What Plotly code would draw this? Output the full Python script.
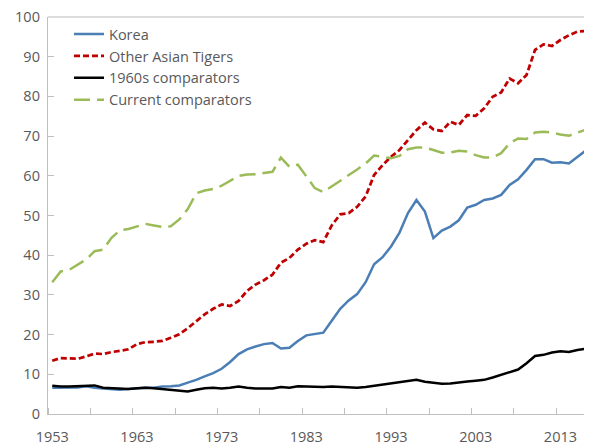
import plotly.graph_objects as go

years = list(range(1953, 2018))

korea = [6.6, 6.6, 6.6, 6.7, 7.0, 6.6, 6.4, 6.3, 6.1, 6.3,
         6.5, 6.6, 6.6, 6.9, 7.0, 7.2, 7.9, 8.6, 9.5, 10.3,
         11.4, 13.1, 15.1, 16.3, 17.0, 17.6, 17.9, 16.5, 16.7, 18.4,
         19.8, 20.1, 20.5, 23.5, 26.5, 28.6, 30.2, 33.2, 37.7, 39.5,
         42.2, 45.7, 50.6, 53.9, 51.0, 44.3, 46.2, 47.2, 48.8, 52.0,
         52.7, 53.9, 54.3, 55.2, 57.7, 59.1, 61.5, 64.2, 64.2, 63.3,
         63.4, 63.1, 64.8, 66.4, 67.4]

other_tigers = [13.4, 14.1, 14.0, 13.9, 14.5, 15.2, 15.1, 15.6, 15.9, 16.3,
                17.6, 18.1, 18.2, 18.4, 19.2, 20.1, 21.6, 23.4, 25.1, 26.5,
                27.6, 27.2, 28.5, 31.0, 32.6, 33.7, 35.1, 38.1, 39.3, 41.4,
                42.9, 43.8, 43.3, 47.5, 50.3, 50.6, 52.2, 54.8, 60.2, 62.7,
                64.8, 66.5, 69.0, 71.5, 73.4, 71.7, 71.3, 73.6, 72.8, 75.3,
                75.1, 77.0, 79.9, 81.0, 84.5, 83.3, 85.4, 91.7, 93.1, 92.7,
                94.2, 95.4, 96.3, 96.5, 97.1]

comparators_1960s = [7.1, 6.9, 6.9, 7.0, 7.1, 7.2, 6.6, 6.5, 6.4, 6.3,
                     6.5, 6.6, 6.5, 6.3, 6.1, 5.9, 5.7, 6.1, 6.5, 6.6,
                     6.4, 6.6, 6.9, 6.6, 6.4, 6.4, 6.4, 6.8, 6.6, 7.0,
                     6.9, 6.8, 6.8, 6.9, 6.8, 6.7, 6.6, 6.8, 7.1, 7.4,
                     7.7, 8.0, 8.3, 8.6, 8.1, 7.8, 7.6, 7.7, 8.0, 8.2,
                     8.4, 8.6, 9.2, 9.9, 10.6, 11.2, 12.8, 14.6, 14.9, 15.5,
                     15.8, 15.6, 16.1, 16.4, 16.8]

current_comparators = [33.2, 35.9, 36.3, 37.7, 38.9, 41.0, 41.4, 44.4, 46.3, 46.6,
                       47.3, 47.9, 47.5, 47.1, 47.3, 49.0, 51.6, 55.6, 56.3, 56.7,
                       57.5, 58.8, 60.0, 60.3, 60.4, 60.7, 61.0, 64.6, 62.3, 62.8,
                       59.8, 56.9, 55.9, 57.3, 58.6, 60.0, 61.6, 63.1, 65.1, 64.8,
                       64.4, 65.0, 66.7, 67.1, 67.1, 66.5, 65.8, 65.9, 66.3, 66.1,
                       65.2, 64.6, 64.6, 65.7, 68.2, 69.4, 69.3, 70.9, 71.1, 70.9,
                       70.4, 70.1, 70.9, 71.7, 72.4]

label_years = [1953, 1963, 1973, 1983, 1993, 2003, 2013]
y_ticks = [0, 10, 20, 30, 40, 50, 60, 70, 80, 90, 100]

FONT = "Open Sans"
GREY = "#595959"
AXIS = "#BFBFBF"

fig = go.Figure()
fig.add_trace(go.Scatter(x=years, y=korea, name="Korea", mode="lines",
                         line=dict(color="#4A7EB5", width=2.5)))
fig.add_trace(go.Scatter(x=years, y=other_tigers, name="Other Asian Tigers", mode="lines",
                         line=dict(color="#C00000", width=2.75, dash="6px,3px")))
fig.add_trace(go.Scatter(x=years, y=comparators_1960s, name="1960s comparators", mode="lines",
                         line=dict(color="#000000", width=2.5)))
fig.add_trace(go.Scatter(x=years, y=current_comparators, name="Current comparators", mode="lines",
                         line=dict(color="#9BBB59", width=2.5, dash="16px,7px")))

# top border of the plot area
fig.add_shape(type="line", xref="paper", yref="paper", x0=0, x1=1, y0=1, y1=1,
              line=dict(color="#D0D0D0", width=1.5), layer="above")

fig.update_layout(
    width=584, height=438,
    margin=dict(l=40, r=0, t=9, b=32, autoexpand=False),
    paper_bgcolor="white", plot_bgcolor="white",
    font=dict(family=FONT, size=14.5, color=GREY),
    showlegend=True,
    legend=dict(x=0.0386, y=0.997, xanchor="left", yanchor="top",
                bgcolor="rgba(0,0,0,0)", font=dict(size=14.5, color=GREY),
                tracegroupgap=0, itemwidth=30),
    xaxis=dict(range=[1952.5, 1952.5 + 544 / 8.47], automargin=False,
               tickvals=label_years, ticktext=[str(v) for v in label_years],
               ticks="", showgrid=False, zeroline=False,
               showline=True, linecolor=AXIS, linewidth=1.3,
               ticklabelstandoff=9, ticklabeloverflow="allow",
               minor=dict(tick0=1952.5, dtick=5, ticks="inside", ticklen=6,
                          tickcolor=AXIS, tickwidth=1.3, showgrid=False),
               tickfont=dict(size=14.5, color=GREY)),
    yaxis=dict(range=[0, 100], tickvals=y_ticks, automargin=False,
               ticks="inside", ticklen=6, tickcolor=AXIS, tickwidth=1.3,
               showgrid=False, zeroline=False,
               showline=True, linecolor=AXIS, linewidth=1.3,
               ticklabelstandoff=4, ticklabeloverflow="allow",
               tickfont=dict(size=14.5, color=GREY)),
)

fig.write_html("out.html")
